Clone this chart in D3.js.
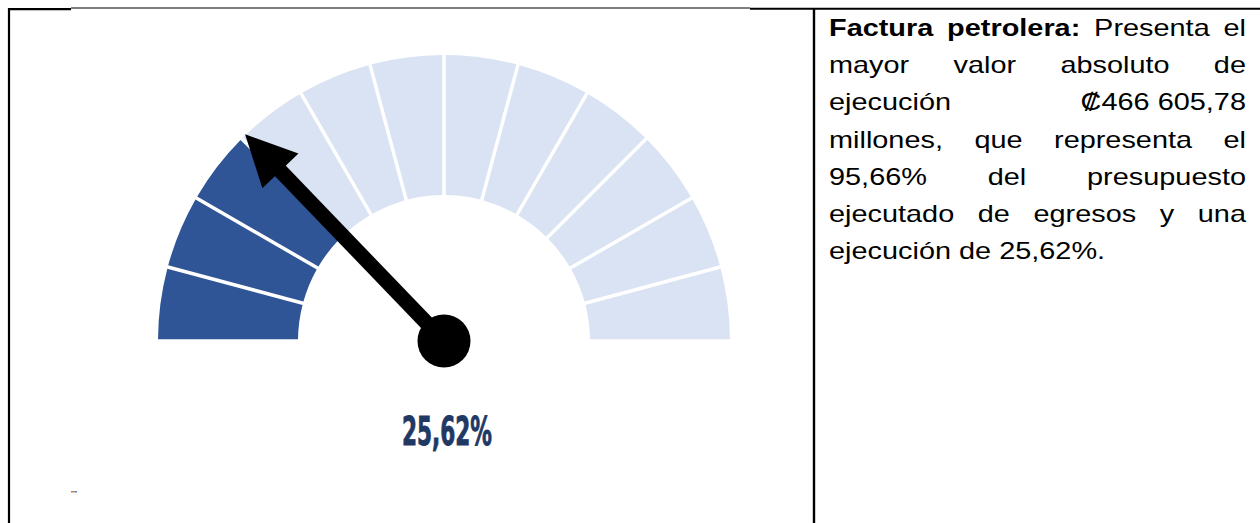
<!DOCTYPE html>
<html><head><meta charset="utf-8">
<script src="https://cdn.jsdelivr.net/npm/d3@7"></script>
<style>html,body{margin:0;padding:0;background:#fff;overflow:hidden}</style>
</head><body><svg id="c" width="1260" height="523"></svg>
<script>
// ---- data ----
const gaugeValue = [25.62];
const gaugeLabel = ["25,62%"];
const segmentBounds = [0, 8.33, 16.67, 25, 33.33, 41.67, 50, 58.33, 66.67, 75, 83.33, 91.67, 100];
const textLines = [
  "Factura petrolera: Presenta el",
  "mayor valor absoluto de",
  "ejecución ₡466\u00a0605,78",
  "millones, que representa el",
  "95,66% del presupuesto",
  "ejecutado de egresos y una",
  "ejecución de 25,62%."
];
const boldWordsFirstLine = [2];

// ---- layout ----
const svg = d3.select("#c");
const cx = 444, cy = 341, rIn = 146, rOut = 286;
const blue = "#2F5597", light = "#DAE3F3", navy = "#1F3864";

// table borders
const borders = svg.append("g");
borders.append("line").attr("x1", 8).attr("x2", 71).attr("y1", 9.2).attr("y2", 9.2).attr("stroke", "#000").attr("stroke-width", 2.2);
borders.append("line").attr("x1", 71).attr("x2", 750).attr("y1", 8).attr("y2", 8).attr("stroke", "#000").attr("stroke-width", 1.2);
borders.append("line").attr("x1", 750).attr("x2", 1260).attr("y1", 8.8).attr("y2", 8.8).attr("stroke", "#000").attr("stroke-width", 2);
borders.append("line").attr("x1", 9).attr("x2", 9).attr("y1", 8).attr("y2", 523).attr("stroke", "#000").attr("stroke-width", 2.2);
borders.append("line").attr("x1", 814).attr("x2", 814).attr("y1", 8).attr("y2", 523).attr("stroke", "#000").attr("stroke-width", 2.4);

// gauge
const angle = d3.scaleLinear().domain([0, 100]).range([-Math.PI / 2, Math.PI / 2]);
const arc = d3.arc().innerRadius(rIn).outerRadius(rOut).padAngle(0.035).padRadius(100);
const segs = d3.pairs(segmentBounds).map(([a, b]) => ({ a, b }));
const g = svg.append("g").attr("transform", `translate(${cx},${cy})`);
g.selectAll("path.seg").data(segs).join("path")
  .attr("class", "seg")
  .attr("d", d => arc({ startAngle: angle(d.a), endAngle: angle(d.b) }))
  .attr("fill", d => d.b <= gaugeValue[0] + 0.01 ? blue : light);

// needle
const th = angle(gaugeValue[0]);
const ux = Math.sin(th), uy = -Math.cos(th);
const nx = -uy, ny = ux;
const tipR = 287, headL = 51, headW = 25, shaftW = 15;
const baseR = tipR - headL + 2;
g.append("line")
  .attr("x1", 0).attr("y1", 0)
  .attr("x2", ux * baseR).attr("y2", uy * baseR)
  .attr("stroke", "#000").attr("stroke-width", shaftW);
const bx = ux * (tipR - headL), by = uy * (tipR - headL);
g.append("path")
  .attr("d", d3.line()([
    [ux * tipR, uy * tipR],
    [bx + nx * headW, by + ny * headW],
    [bx - nx * headW, by - ny * headW]
  ]) + "Z")
  .attr("fill", "#000");
g.append("circle").attr("r", 26.5).attr("fill", "#000");

// value label
svg.append("text")
  .attr("x", 447).attr("y", 445)
  .attr("text-anchor", "middle")
  .attr("font-family", "'Liberation Sans Narrow','DejaVu Sans Condensed','Roboto',sans-serif")
  .attr("font-weight", "bold")
  .attr("font-size", 39)
  .attr("fill", navy)
  .attr("stroke", navy)
  .attr("stroke-width", 0.9)
  .attr("textLength", 90)
  .attr("lengthAdjust", "spacingAndGlyphs")
  .text(gaugeLabel[0]);

// tiny artifact mark
const mk = svg.append("g").attr("opacity", 0.8);
mk.append("rect").attr("x", 71).attr("y", 491).attr("width", 2).attr("height", 1.5).attr("fill", "#c8502a");
mk.append("rect").attr("x", 73).attr("y", 491).attr("width", 2).attr("height", 1.5).attr("fill", "#5f8f3a");
mk.append("rect").attr("x", 75).attr("y", 491).attr("width", 2).attr("height", 1.5).attr("fill", "#3a5fcd");

// justified paragraph
const tx0 = 829, tx1 = 1246, sx = 1.245, fs = 23.2, base0 = 35.8, lead = 37.25;
const W = (tx1 - tx0) / sx;
textLines.forEach((line, i) => {
  const lg = svg.append("g").attr("transform", `translate(${tx0},${base0 + i * lead}) scale(${sx},1)`);
  const font = s => s.attr("font-family", "'Liberation Sans',Arial,sans-serif").attr("font-size", fs).attr("fill", "#000");
  if (i === textLines.length - 1) {
    lg.append("text").call(font).attr("x", 0).attr("y", 0).text(line);
    return;
  }
  const words = line.split(" ");
  const nodes = words.map((w, k) => lg.append("text").call(font)
    .attr("font-weight", (i === 0 && k < boldWordsFirstLine[0]) ? "bold" : "normal")
    .text(w));
  const widths = nodes.map(n => n.node().getComputedTextLength());
  const gap = (W - d3.sum(widths)) / (words.length - 1);
  let x = 0;
  nodes.forEach((n, k) => { n.attr("x", x).attr("y", 0); x += widths[k] + gap; });
});
</script></body></html>
